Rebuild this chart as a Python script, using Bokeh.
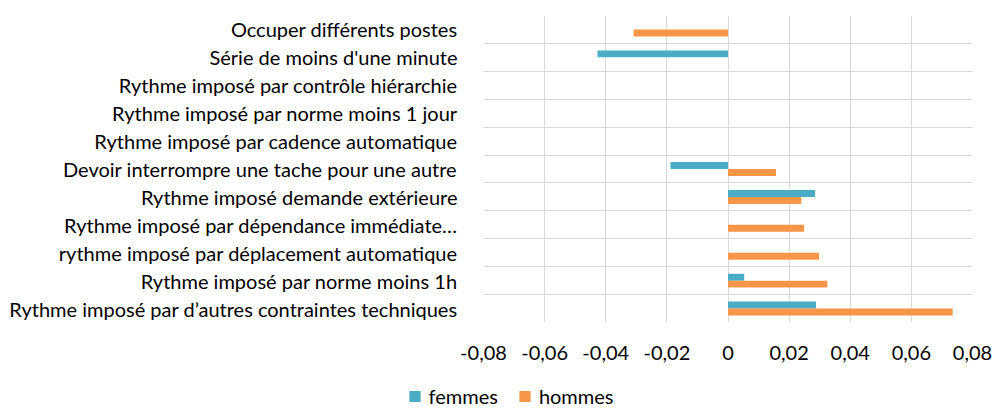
from bokeh.plotting import figure
from bokeh.models import FixedTicker, Legend, LegendItem, ColumnDataSource
from bokeh.layouts import column
from bokeh.embed import file_html
from bokeh.resources import INLINE

categories = [
    "Occuper différents postes",
    "Série de moins d'une minute",
    "Rythme imposé par contrôle hiérarchie",
    "Rythme imposé par norme moins 1 jour",
    "Rythme imposé par cadence automatique",
    "Devoir interrompre une tache pour une autre",
    "Rythme imposé demande extérieure",
    "Rythme imposé par dépendance immédiate…",
    "rythme imposé par déplacement automatique",
    "Rythme imposé par norme moins 1h",
    "Rythme imposé par d’autres contraintes techniques",
]
femmes = [0.0, -0.0427, 0.0, 0.0, 0.0, -0.0188, 0.0285, 0.0, 0.0, 0.0053, 0.0288]
hommes = [-0.0309, 0.0, 0.0, 0.0, 0.0, 0.0157, 0.0240, 0.0249, 0.0298, 0.0325, 0.0735]
x_ticks = [-0.08, -0.06, -0.04, -0.02, 0.0, 0.02, 0.04, 0.06, 0.08]
x_tick_labels = ["-0,08", "-0,06", "-0,04", "-0,02", "0", "0,02", "0,04", "0,06", "0,08"]
series_names = ["femmes", "hommes"]
series_colors = ["#4BACC6", "#F79646"]

FONT = "Lato"
FS = "20px"
n = len(categories)
# first category at top
centers = [n - i - 0.5 for i in range(n)]

src = ColumnDataSource(dict(
    cat=categories,
    yf=[c + 0.125 for c in centers],
    yh=[c - 0.125 for c in centers],
    f=femmes, h=hommes,
))

p = figure(width=993, height=375, output_backend="svg", toolbar_location=None,
           x_range=(-0.08, 0.08), y_range=(0, n),
           min_border_left=483, min_border_right=21, min_border_top=15, min_border_bottom=53)
p.outline_line_color = None
p.background_fill_color = "white"
p.border_fill_color = "white"

p.hbar(y="yf", left=0, right="f", height=0.25, source=src,
       fill_color=series_colors[0], line_color=None)
p.hbar(y="yh", left=0, right="h", height=0.25, source=src,
       fill_color=series_colors[1], line_color=None)

p.xaxis.ticker = FixedTicker(ticks=x_ticks)
p.xaxis.major_label_overrides = {t: l for t, l in zip(x_ticks, x_tick_labels)}
p.xaxis.axis_line_color = None
p.xaxis.major_tick_line_color = None
p.xaxis.minor_tick_line_color = None
p.xaxis.major_label_standoff = 17
p.xaxis.major_label_text_font = FONT
p.xaxis.major_label_text_font_size = FS
p.xaxis.major_label_text_color = "#000000"

p.yaxis.ticker = FixedTicker(ticks=centers)
p.yaxis.major_label_overrides = {c: l for c, l in zip(centers, categories)}
p.yaxis.axis_line_color = None
p.yaxis.major_tick_line_color = None
p.yaxis.minor_tick_line_color = None
p.yaxis.major_label_standoff = 20
p.yaxis.major_label_text_font = FONT
p.yaxis.major_label_text_font_size = FS
p.yaxis.major_label_text_color = "#000000"

p.xgrid.ticker = FixedTicker(ticks=x_ticks)
p.xgrid.grid_line_color = "#D9D9D9"
p.xgrid.grid_line_width = 1
p.ygrid.ticker = FixedTicker(ticks=list(range(n + 1)))
p.ygrid.grid_line_color = "#D9D9D9"
p.ygrid.grid_line_width = 1

# legend strip below the chart (its view is kept far away from the data)
p2 = figure(width=993, height=33, output_backend="svg", toolbar_location=None,
            x_range=(1000, 1001), y_range=(1000, 1001),
            min_border_left=21, min_border_right=0, min_border_top=8, min_border_bottom=0)
p2.frame_align = False
p2.xaxis.visible = False
p2.yaxis.visible = False
p2.grid.visible = False
p2.outline_line_color = None
p2.border_fill_color = "white"
p2.background_fill_color = "white"
items = []
for name, col, key, ykey in zip(series_names, series_colors, ["f", "h"], ["yf", "yh"]):
    r = p2.scatter(x=key, y=ykey, source=src, marker="square", size=11,
                   fill_color=col, line_color=None)
    items.append(LegendItem(label=name, renderers=[r]))

legend = Legend(items=items, orientation="horizontal", location="center",
                padding=0, margin=0, spacing=13, label_standoff=-5,
                glyph_width=28, glyph_height=28, label_height=18,
                label_text_font=FONT, label_text_font_size=FS,
                label_text_color="#000000",
                border_line_color=None, background_fill_alpha=0)
p2.add_layout(legend, "center")

layout = column(p, p2, spacing=0)
open("out.html", "w").write(file_html(layout, INLINE))
